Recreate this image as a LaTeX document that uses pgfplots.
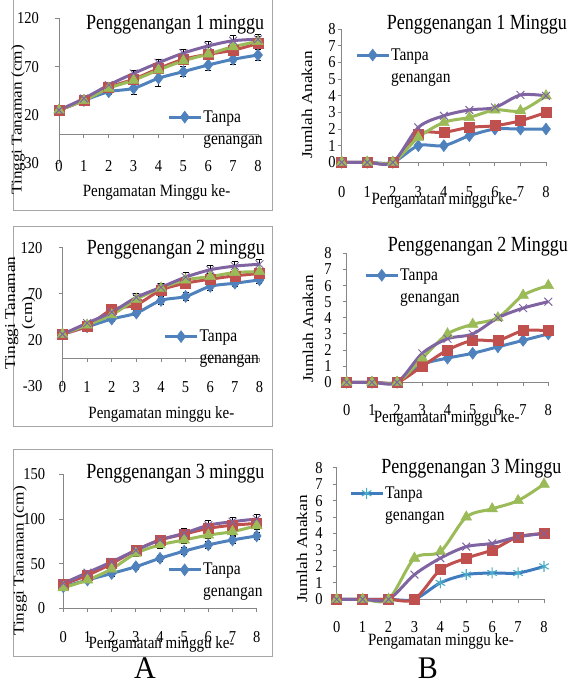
\documentclass[border=0pt]{standalone}
\usepackage{pgfplots}
\pgfplotsset{compat=1.18}
\usepackage{fontspec}
\setmainfont{Liberation Serif}
\usepackage{graphicx}

\definecolor{cblue}{HTML}{4F81BD}
\definecolor{cred}{HTML}{C0504D}
\definecolor{cgreen}{HTML}{9BBB59}
\definecolor{cpurple}{HTML}{8064A2}
\definecolor{cteal}{HTML}{4BACC6}
\definecolor{cline}{HTML}{3F7CBF}
\definecolor{axgray}{HTML}{868686}

\newcommand{\hs}[1]{\scalebox{1}[1.15]{#1}}
\newcommand{\ts}[1]{\scalebox{1}[1.2]{#1}}
\newcommand{\rs}[1]{\scalebox{1.15}[1]{#1}}
\newcommand{\tickfont}{\fontsize{14.5}{16}\selectfont}
\newcommand{\labfont}{\fontsize{15}{17}\selectfont}
\newcommand{\titfont}{\fontsize{18}{20}\selectfont}
\newcommand{\legfont}{\fontsize{15.5}{22}\selectfont}

\pgfplotsset{
  panel/.style={
    scale only axis, clip=false, anchor=south west,
    xmin=0, xmax=8, xtick={0,1,...,8},
    axis x line=middle, axis y line=left,
    axis line style={axgray, line width=0.9pt, -},
    every tick/.style={axgray, line width=0.9pt},
    tick align=outside, major tick length=4pt,
    hide obscured x ticks=false, hide obscured y ticks=false,
    /pgf/number format/assume math mode=true,
    xticklabel={\hs{\pgfmathprintnumber{\tick}}},
    yticklabel={\hs{\pgfmathprintnumber{\tick}}},
    x tick label style={anchor=center, font=\tickfont, inner sep=0pt, black},
    y tick label style={anchor=east, font=\tickfont, inner sep=0pt, black},
    title style={anchor=center, font=\titfont, inner sep=0pt, yshift=-7pt},
    xlabel style={anchor=center, font=\labfont, inner sep=0pt},
    ylabel style={anchor=center, font=\labfont, inner sep=0pt, align=center},
    legend style={anchor=north west, draw=none, fill=none, inner sep=0pt,
      font=\legfont, nodes={inner sep=1pt}},
    legend cell align=left,
    legend image code/.code={\draw[mark repeat=2, mark phase=2, #1]
      plot coordinates {(0pt,0pt) (16pt,0pt) (32pt,0pt)};},
  },
  s1/.style={cblue, line width=3pt, smooth, mark=diamond*, mark size=6pt,
    mark options={solid, fill=cblue, draw=cblue, line width=0.5pt}},
  s2/.style={cred, line width=3pt, smooth, mark=square*, mark size=5pt,
    mark options={solid, fill=cred, draw=cred, line width=0.5pt}},
  s3/.style={cgreen, line width=3pt, smooth, mark=triangle*, mark size=6.2pt,
    mark options={solid, fill=cgreen, draw=cgreen, line width=0.5pt}},
  s4/.style={cpurple, line width=3pt, smooth, mark=x, mark size=5.5pt,
    mark options={solid, draw=cpurple, line width=1pt}},
  s5/.style={cline, line width=3pt, smooth, mark=asterisk, mark size=5.5pt,
    mark options={solid, draw=cteal, line width=1.1pt}},
  eb/.style={error bars/.cd, y dir=both, y explicit,
    error bar style={black, line width=0.8pt, solid},
    error mark options={black, mark size=3pt, line width=0.8pt, rotate=90}},
}

\begin{document}
\begin{tikzpicture}[x=1pt,y=1pt]
\path[use as bounding box] (0pt,0pt) rectangle (574pt,-686pt);

% frames of the A panels
\draw[gray!70, line width=0.8pt] (13.3pt,0pt) -- (13.3pt,-210.7pt) -- (272.7pt,-210.7pt) -- (272.7pt,0pt);
\draw[gray!70, line width=0.8pt] (13.3pt,-226pt) rectangle (272.7pt,-426pt);
\draw[gray!70, line width=0.8pt] (13.3pt,-449.3pt) rectangle (272.7pt,-656pt);

% ===== A1 =====
\begin{axis}[panel, at={(59pt,-163.3pt)}, width=199pt, height=145pt,
  ymin=-30, ymax=120, ytick={-30,20,70,120},
  x tick label style={yshift=-28pt}, y tick label style={xshift=-16pt},
  title={\ts{Penggenangan 1 minggu}}, title style={at={(axis description cs:0.583,0.960)}},
  xlabel={\hs{Pengamatan Minggu ke-}}, xlabel style={at={(axis description cs:0.490,-0.200)}},
  ylabel={\rs{Tinggi Tanaman (cm)}}, ylabel style={at={(axis description cs:-0.206,0.299)}},
  legend style={at={(axis description cs:0.543,0.372)}}]
\addplot[s1, eb] table[x=x, y=y, y error=e] {
x y e
0 25 1
1 35 2
2 44 3
3 47.6 6
4 58 8
5 64.8 5
6 71.7 6
7 77.6 5
8 82 6
};
\addlegendentry{\parbox[t]{70pt}{\hs{Tanpa}\\\hs{genangan}}}
\addplot[s2, eb] table[x=x, y=y, y error=e] {
x y e
0 25 1
1 35 2
2 48.6 3
3 57 3
4 68 4
5 77.6 4
6 82.8 4
7 87 4
8 94 4
};
\addplot[s3, eb] table[x=x, y=y, y error=e] {
x y e
0 25 1
1 35 2
2 47.6 3
3 56 3
4 66.5 4
5 76 4
6 83 4
7 90.6 5
8 96 5
};
\addplot[s4, eb] table[x=x, y=y, y error=e] {
x y e
0 25 1
1 37 2
2 51 3
3 63 3
4 74 4
5 84 4
6 91.4 5
7 96.8 5
8 98.3 5
};
\end{axis}

% ===== A2 =====
\begin{axis}[panel, at={(62.5pt,-385.7pt)}, width=197pt, height=138pt,
  ymin=-30, ymax=120, ytick={-30,20,70,120},
  x tick label style={yshift=-25pt}, y tick label style={xshift=-16pt},
  title={\ts{Penggenangan 2 minggu}}, title style={at={(axis description cs:0.575,0.990)}},
  xlabel={\hs{Pengamatan minggu ke-}}, xlabel style={at={(axis description cs:0.502,-0.205)}},
  ylabel={\rs{Tinggi Tanaman}\\\rs{(cm)}}, ylabel style={at={(axis description cs:-0.215,0.527)}},
  legend style={at={(axis description cs:0.512,0.412)}}]
\addplot[s1, eb] table[x=x, y=y, y error=e] {
x y e
0 26 1
1 34 2
2 42.5 3
3 49 3
4 62.7 4
5 67 4
6 78 4
7 81.4 4
8 85 4
};
\addlegendentry{\parbox[t]{70pt}{\hs{Tanpa}\\\hs{genangan}}}
\addplot[s2, eb] table[x=x, y=y, y error=e] {
x y e
0 26 1
1 35 2
2 52.6 3
3 58 3
4 74 4
5 81.4 4
6 85.8 4
7 89.4 4
8 92 4
};
\addplot[s3, eb] table[x=x, y=y, y error=e] {
x y e
0 26 1
1 36 2
2 47 3
3 64 4
4 76 4
5 85 4
6 88.6 4
7 93 4
8 94 4
};
\addplot[s4, eb] table[x=x, y=y, y error=e] {
x y e
0 26 1
1 38 2
2 50 3
3 66 4
4 77 4
5 88 5
6 96 5
7 100 5
8 102 5
};
\end{axis}

% ===== A3 =====
\begin{axis}[panel, at={(63.3pt,-608.3pt)}, width=193.4pt, height=134pt,
  ymin=0, ymax=150, ytick={0,50,100,150},
  x tick label style={yshift=-24.5pt}, y tick label style={xshift=-14pt},
  title={\ts{Penggenangan 3 minggu}}, title style={at={(axis description cs:0.580,1.010)}},
  xlabel={\hs{Pengamatan minggu ke-}}, xlabel style={at={(axis description cs:0.508,-0.266)}},
  ylabel={\rs{Tinggi Tanaman (cm)}}, ylabel style={at={(axis description cs:-0.224,0.353)}},
  legend style={at={(axis description cs:0.536,0.345)}}]
\addplot[s1, eb] table[x=x, y=y, y error=e] {
x y e
0 24 1
1 31.7 2
2 39 3
3 46.6 3
4 56 3
5 64 4
6 71 4
7 76.5 4
8 81 4
};
\addlegendentry{\parbox[t]{70pt}{\hs{Tanpa}\\\hs{genangan}}}
\addplot[s2, eb] table[x=x, y=y, y error=e] {
x y e
0 27 1
1 37 2
2 50 3
3 65 3
4 76.5 4
5 83 4
6 89.5 4
7 93 4
8 95 4
};
\addplot[s3, eb] table[x=x, y=y, y error=e] {
x y e
0 23 1
1 31.7 2
2 44 3
3 61.5 3
4 71 4
5 76.5 4
6 82 4
7 85.8 4
8 92.5 4
};
\addplot[s4, eb] table[x=x, y=y, y error=e] {
x y e
0 28 1
1 40 2
2 52 3
3 65 3
4 76.5 4
5 84 5
6 93 5
7 97 5
8 100 5
};
\end{axis}

% ===== B1 =====
\begin{axis}[panel, at={(341.7pt,-162.3pt)}, width=204.3pt, height=133pt,
  ymin=0, ymax=8, ytick={0,1,...,8},
  x tick label style={yshift=-26pt}, y tick label style={xshift=-2pt},
  title={\ts{Penggenangan 1 Minggu}}, title style={at={(axis description cs:0.662,1.040)}},
  xlabel={\hs{Pengamatan minggu ke-}}, xlabel style={at={(axis description cs:0.503,-0.283)}},
  ylabel={\rs{Jumlah Anakan}}, ylabel style={at={(axis description cs:-0.170,0.431)}},
  legend style={at={(axis description cs:0.065,0.865)}}]
\addplot[s1] coordinates {(0,0) (1,0) (2,0) (3,1.0) (4,1.0) (5,1.6) (6,2.0) (7,2.0) (8,2.0)};
\addlegendentry{\parbox[t]{70pt}{\hs{Tanpa}\\\hs{genangan}}}
\addplot[s2] coordinates {(0,0) (1,0) (2,0) (3,1.7) (4,1.8) (5,2.1) (6,2.2) (7,2.5) (8,3.0)};
\addplot[s3] coordinates {(0,0) (1,0) (2,0) (3,1.5) (4,2.4) (5,2.7) (6,3.15) (7,3.1) (8,4.0)};
\addplot[s4] coordinates {(0,0) (1,0) (2,0) (3,2.1) (4,2.8) (5,3.15) (6,3.3) (7,4.05) (8,4.0)};
\end{axis}

% ===== B2 =====
\begin{axis}[panel, at={(346.7pt,-382.3pt)}, width=201.6pt, height=129pt,
  ymin=0, ymax=8, ytick={0,1,...,8},
  x tick label style={yshift=-24pt}, y tick label style={xshift=-11pt},
  title={\ts{Penggenangan 2 Minggu}}, title style={at={(axis description cs:0.651,1.060)}},
  xlabel={\hs{Pengamatan minggu ke-}}, xlabel style={at={(axis description cs:0.496,-0.279)}},
  ylabel={\rs{Jumlah Anakan}}, ylabel style={at={(axis description cs:-0.192,0.413)}},
  legend style={at={(axis description cs:0.086,0.890)}}]
\addplot[s1] coordinates {(0,0) (1,0) (2,0) (3,1.1) (4,1.5) (5,1.8) (6,2.2) (7,2.6) (8,3.0)};
\addlegendentry{\parbox[t]{70pt}{\hs{Tanpa}\\\hs{genangan}}}
\addplot[s2] coordinates {(0,0) (1,0) (2,0) (3,1.0) (4,2.0) (5,2.6) (6,2.6) (7,3.2) (8,3.2)};
\addplot[s3] coordinates {(0,0) (1,0) (2,0) (3,1.5) (4,3.0) (5,3.6) (6,4.0) (7,5.4) (8,6.0)};
\addplot[s4] coordinates {(0,0) (1,0) (2,0) (3,1.8) (4,2.7) (5,3.0) (6,4.0) (7,4.6) (8,5.0)};
\end{axis}

% ===== B3 =====
\begin{axis}[panel, at={(336.7pt,-599.3pt)}, width=207.3pt, height=131.6pt,
  ymin=0, ymax=8, ytick={0,1,...,8},
  x tick label style={yshift=-23.5pt}, y tick label style={xshift=-10pt},
  title={\ts{Penggenangan 3 Minggu}}, title style={at={(axis description cs:0.650,1.000)}},
  xlabel={\hs{Pengamatan minggu ke-}}, xlabel style={at={(axis description cs:0.503,-0.322)}},
  ylabel={\rs{Jumlah Anakan}}, ylabel style={at={(axis description cs:-0.167,0.382)}},
  legend style={at={(axis description cs:0.059,0.865)}}]
\addplot[s5] coordinates {(0,0) (1,0) (2,0) (3,0) (4,1.0) (5,1.5) (6,1.6) (7,1.6) (8,2.0)};
\addlegendentry{\parbox[t]{70pt}{\hs{Tanpa}\\\hs{genangan}}}
\addplot[s2] coordinates {(0,0) (1,0) (2,0) (3,0) (4,1.8) (5,2.5) (6,3.0) (7,3.8) (8,4.0)};
\addplot[s3] coordinates {(0,0) (1,0) (2,0) (3,2.5) (4,2.9) (5,5.0) (6,5.5) (7,6.0) (8,7.0)};
\addplot[s4] coordinates {(0,0) (1,0) (2,0) (3,1.5) (4,2.5) (5,3.2) (6,3.4) (7,3.8) (8,4.0)};
\end{axis}

\node[font=\fontsize{30}{32}\selectfont, inner sep=0pt] at (145pt,-668pt) {\scalebox{1}[1.05]{A}};
\node[font=\fontsize{30}{32}\selectfont, inner sep=0pt] at (428pt,-668pt) {\scalebox{1}[1.05]{B}};
\end{tikzpicture}
\end{document}
